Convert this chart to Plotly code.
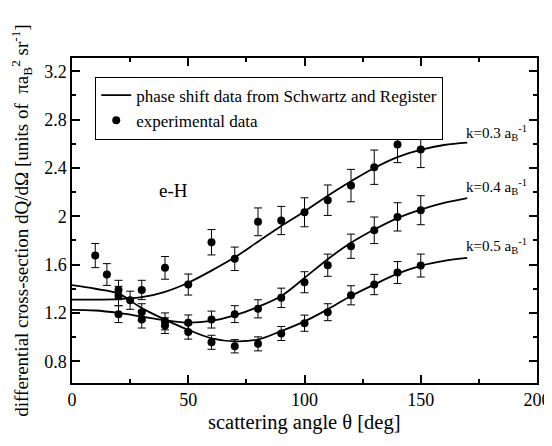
import plotly.graph_objects as go

# ---- data ----
curve_x = [0, 10, 20, 30, 40, 50, 60, 70, 80, 90, 100, 110, 120, 130, 140, 150, 160, 170]
curve_k03 = [1.31, 1.31, 1.315, 1.33, 1.375, 1.45, 1.55, 1.66, 1.79, 1.92, 2.04, 2.17, 2.29, 2.40, 2.49, 2.55, 2.59, 2.61]
curve_k04 = [1.225, 1.22, 1.20, 1.17, 1.14, 1.12, 1.135, 1.18, 1.25, 1.34, 1.49, 1.645, 1.78, 1.89, 1.985, 2.055, 2.11, 2.15]
curve_k05 = [1.43, 1.40, 1.36, 1.24, 1.145, 1.06, 0.99, 0.965, 0.98, 1.05, 1.13, 1.23, 1.34, 1.435, 1.525, 1.59, 1.63, 1.655]

exp_x_k03 = [10, 15, 20, 30, 40, 50, 60, 70, 80, 90, 100, 110, 120, 130, 140, 150]
exp_y_k03 = [1.675, 1.518, 1.39, 1.39, 1.573, 1.435, 1.785, 1.648, 1.954, 1.965, 2.033, 2.133, 2.254, 2.406, 2.594, 2.553]
exp_e_k03 = [0.10, 0.09, 0.08, 0.08, 0.094, 0.087, 0.105, 0.097, 0.115, 0.117, 0.12, 0.126, 0.134, 0.142, 0.15, 0.15]

exp_x_k04 = [20, 30, 40, 50, 60, 70, 80, 90, 100, 110, 120, 130, 140, 150]
exp_y_k04 = [1.19, 1.145, 1.13, 1.118, 1.145, 1.19, 1.234, 1.325, 1.454, 1.595, 1.752, 1.884, 1.995, 2.05]
exp_e_k04 = [0.07, 0.07, 0.07, 0.065, 0.07, 0.07, 0.075, 0.08, 0.087, 0.092, 0.10, 0.11, 0.117, 0.12]

exp_x_k05 = [20, 25, 30, 40, 50, 60, 70, 80, 90, 100, 110, 120, 130, 140, 150]
exp_y_k05 = [1.34, 1.305, 1.206, 1.095, 1.043, 0.957, 0.924, 0.944, 1.03, 1.115, 1.206, 1.346, 1.435, 1.534, 1.592]
exp_e_k05 = [0.08, 0.075, 0.07, 0.065, 0.06, 0.058, 0.055, 0.058, 0.058, 0.067, 0.07, 0.079, 0.084, 0.091, 0.095]

k_labels = ["k=0.3 a<sub>B</sub><sup>-1</sup>", "k=0.4 a<sub>B</sub><sup>-1</sup>", "k=0.5 a<sub>B</sub><sup>-1</sup>"]
k_label_x = [168.5, 168.5, 168.5]
k_label_y = [2.69, 2.245, 1.75]

FONT = "Liberation Serif"

fig = go.Figure()

curves = [curve_k03, curve_k04, curve_k05]
for i, cy in enumerate(curves):
    fig.add_trace(go.Scatter(
        x=curve_x, y=cy, mode="lines", line=dict(color="black", width=1.8, shape="spline"),
        name="phase shift data from Schwartz and Register",
        legendgroup="theory", showlegend=(i == 0)))

exps = [(exp_x_k03, exp_y_k03, exp_e_k03), (exp_x_k04, exp_y_k04, exp_e_k04), (exp_x_k05, exp_y_k05, exp_e_k05)]
for i, (ex, ey, ee) in enumerate(exps):
    fig.add_trace(go.Scatter(
        x=ex, y=ey, mode="markers",
        marker=dict(color="black", size=8, symbol="circle"),
        error_y=dict(type="data", array=ee, visible=True, color="black", thickness=1, width=4),
        name="experimental data", legendgroup="exp", showlegend=(i == 0)))

for t, lx, ly in zip(k_labels, k_label_x, k_label_y):
    fig.add_annotation(x=lx, y=ly, text=t, showarrow=False, xanchor="left", yanchor="middle",
                       font=dict(family=FONT, size=15, color="black"))

fig.add_annotation(x=43.5, y=2.21, text="e-H", showarrow=False, xanchor="center", yanchor="middle",
                   font=dict(family=FONT, size=19, color="black"))

# x-axis title placed as annotation for exact vertical position
fig.add_annotation(x=0.5, y=-0.12, xref="paper", yref="paper", text="scattering angle θ [deg]",
                   showarrow=False, xanchor="center", yanchor="middle", borderpad=0,
                   font=dict(family=FONT, size=20.5, color="black"))

axis_common = dict(
    showline=True, linecolor="black", linewidth=1.5, mirror="ticks",
    ticks="inside", ticklen=8, tickwidth=1.5, tickcolor="black",
    showgrid=False, zeroline=False, automargin=False,
    tickfont=dict(family=FONT, size=18, color="black"),
)

fig.update_xaxes(range=[0, 200], tick0=0, dtick=50,
                 minor=dict(ticks="inside", ticklen=4, tickwidth=1.5, tickcolor="black", dtick=25, showgrid=False),
                 **axis_common)
fig.update_yaxes(range=[0.62, 3.31], tick0=0.8, dtick=0.4, tickformat="~g",
                 minor=dict(ticks="inside", ticklen=4, tickwidth=1.5, tickcolor="black", dtick=0.2, tick0=0.8, showgrid=False),
                 title=dict(text="differential cross-section dQ/dΩ [units of  πa<sub>B</sub><sup>2</sup> sr<sup>-1</sup>]",
                            font=dict(family=FONT, size=19, color="black"), standoff=20),
                 **axis_common)

# page body has an 8px margin, so the figure is offset by 8px inside the 552x446 window
fig.update_layout(
    width=544, height=438,
    margin=dict(l=64, r=15, t=50, b=63, autoexpand=False),
    paper_bgcolor="white", plot_bgcolor="white",
    legend=dict(x=0.05, y=0.943, xanchor="left", yanchor="top",
                bgcolor="white", bordercolor="black", borderwidth=1,
                font=dict(family=FONT, size=17, color="black"),
                tracegroupgap=0, itemwidth=30),
    showlegend=True,
)

fig.write_html("out.html")
